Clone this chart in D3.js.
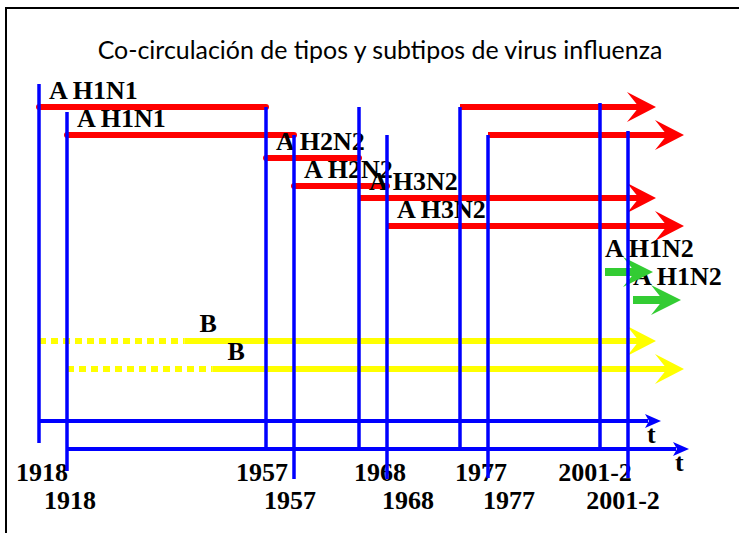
<!DOCTYPE html>
<html>
<head>
<meta charset="utf-8">
<script src="https://cdn.jsdelivr.net/npm/d3@7"></script>
<style>
  body { margin: 0; background: #fff; }
  .lbl { font-family: "Liberation Serif", "Times New Roman", serif; font-weight: bold; font-size: 26px; fill: #000; }
</style>
</head>
<body>
<div id="chart"></div>
<script>
// Co-circulación de tipos y subtipos de virus influenza

// --- data ---
const years = [1918, 1957, 1968, 1977, 2001.5];
const yearLabels = ["1918", "1957", "1968", "1977", "2001-2"];

const subtypes   = ["A H1N1", "A H2N2", "A H3N2", "A H1N1", "A H1N2", "B"];
const startYears = [1918, 1957, 1968, 1977, 2001.5, 1918];
const endYears   = [1957, 1968, null, null, null, null];   // null = still circulating
const lanes      = [0, 1, 2, 0, 3, 4];
const showLabel  = [true, true, true, false, true, true];
const bSolidFrom = 1943;   // B drawn dotted before this

// --- layout ---
const W = 739, H = 533;
const copies = [0, 28];     // the slide shows the picture twice, shifted

const x = d3.scaleLinear()
  .domain(years)
  .range([39, 266, 359, 460, 600]);
const xNow = 656;           // arrow tips
const y = d3.scaleOrdinal()
  .domain([0, 1, 2, 3, 4])
  .range([107, 158, 198, 272, 341]);
const axisY = 421;

const lineTop = [84, 107, 107, 107, 103];
const lineBottom = [443, 451, 451, 450, 450];
const yearShift = [3, -4, 21, 21, -5];

const color = d => d === "B" ? "#ffff00" : d === "A H1N2" ? "#33cc33" : "#ff0000";

const rows = subtypes.map((s, i) => ({
  name: s, start: startYears[i], end: endYears[i], lane: lanes[i], label: showLabel[i]
}));

const svg = d3.select("#chart").append("svg")
  .attr("width", W).attr("height", H);

svg.append("rect").attr("width", W).attr("height", H).attr("fill", "#fff");

// frame
svg.append("path")
  .attr("d", `M6,${H} V8 H${W}`)
  .attr("fill", "none").attr("stroke", "#000").attr("stroke-width", 2);

// title
const title = svg.append("text")
  .attr("x", 380).attr("y", 59)
  .attr("text-anchor", "middle")
  .style("font-family", "Lato, 'Open Sans', sans-serif")
  .style("font-size", "22px")
  .text("Co-circulación de tipos y subtipos de virus influenza");
const tw = title.node().getComputedTextLength();
title.style("font-size", (22 * 565 / tw) + "px");

// arrow head polygon: tip at (tx, ty)
const head = (tx, ty, len, half, notch) =>
  `M${tx},${ty} L${tx - len},${ty - half} L${tx - notch},${ty} L${tx - len},${ty + half} Z`;

// z-order: bars, labels, green arrows, blue lines (both copies for each)
const makeSet = () => copies.map(o => svg.append("g").attr("transform", `translate(${o},${o})`));
const bars = makeSet();
const labels = makeSet();
const greens = makeSet();
const blues = makeSet();

copies.forEach((o, c) => {
  const gBar = bars[c], gLbl = labels[c], gGreen = greens[c], gBlue = blues[c];

  // red and yellow bars
  rows.filter(d => d.name !== "A H1N2").forEach(d => {
    const yy = y(d.lane);
    const x0 = x(d.start);
    const x1 = d.end === null ? xNow - 16 : x(d.end);
    const col = color(d.name);
    if (d.name === "B") {
      gBar.append("line")
        .attr("x1", x0).attr("x2", x(bSolidFrom))
        .attr("y1", yy).attr("y2", yy)
        .attr("stroke", col).attr("stroke-width", 6)
        .attr("stroke-dasharray", "7,5");
      gBar.append("line")
        .attr("x1", x(bSolidFrom)).attr("x2", x1)
        .attr("y1", yy).attr("y2", yy)
        .attr("stroke", col).attr("stroke-width", 6);
    } else {
      gBar.append("line")
        .attr("x1", x0).attr("x2", x1)
        .attr("y1", yy).attr("y2", yy)
        .attr("stroke", col).attr("stroke-width", 6)
        .attr("stroke-linecap", d.end === null ? "butt" : "round");
    }
    if (d.end === null) {
      gBar.append("path").attr("d", head(xNow, yy, 29, 15, 17)).attr("fill", col);
    }
  });

  // green arrow
  rows.filter(d => d.name === "A H1N2").forEach(d => {
    const yy = y(d.lane);
    gGreen.append("line")
      .attr("x1", x(d.start) + 5).attr("x2", xNow - 20)
      .attr("y1", yy).attr("y2", yy)
      .attr("stroke", color(d.name)).attr("stroke-width", 8);
    gGreen.append("path").attr("d", head(xNow - 3, yy, 30, 15, 18)).attr("fill", color(d.name));
  });

  // subtype labels
  rows.filter(d => d.label).forEach(d => {
    let lx = x(d.start) + 10, ly = y(d.lane) - 8;
    if (d.name === "A H1N2") { lx = x(d.start) + 5; ly = y(d.lane) - 15; }
    if (d.name === "B") { lx = x(bSolidFrom) + 15; ly = y(d.lane) - 9; }
    gLbl.append("text").attr("class", "lbl")
      .attr("x", lx).attr("y", ly).text(d.name);
  });

  // year labels
  yearLabels.forEach((t, i) => {
    gLbl.append("text").attr("class", "lbl")
      .attr("x", x(years[i]) + yearShift[i]).attr("y", 481)
      .attr("text-anchor", "middle").text(t);
  });
  gLbl.append("text").attr("class", "lbl")
    .attr("x", 647).attr("y", 443).text("t");

  // blue time lines
  years.forEach((yr, i) => {
    gBlue.append("line")
      .attr("x1", x(yr)).attr("x2", x(yr))
      .attr("y1", lineTop[i]).attr("y2", lineBottom[i])
      .attr("stroke", "#0000ff").attr("stroke-width", 3.5);
  });
  gBlue.append("line")
    .attr("x1", x(years[0]) - 1).attr("x2", xNow - 8)
    .attr("y1", axisY).attr("y2", axisY)
    .attr("stroke", "#0000ff").attr("stroke-width", 4);
  gBlue.append("path").attr("d", head(xNow + 5, axisY, 16, 7, 12)).attr("fill", "#0000ff");
});
</script>
</body>
</html>
